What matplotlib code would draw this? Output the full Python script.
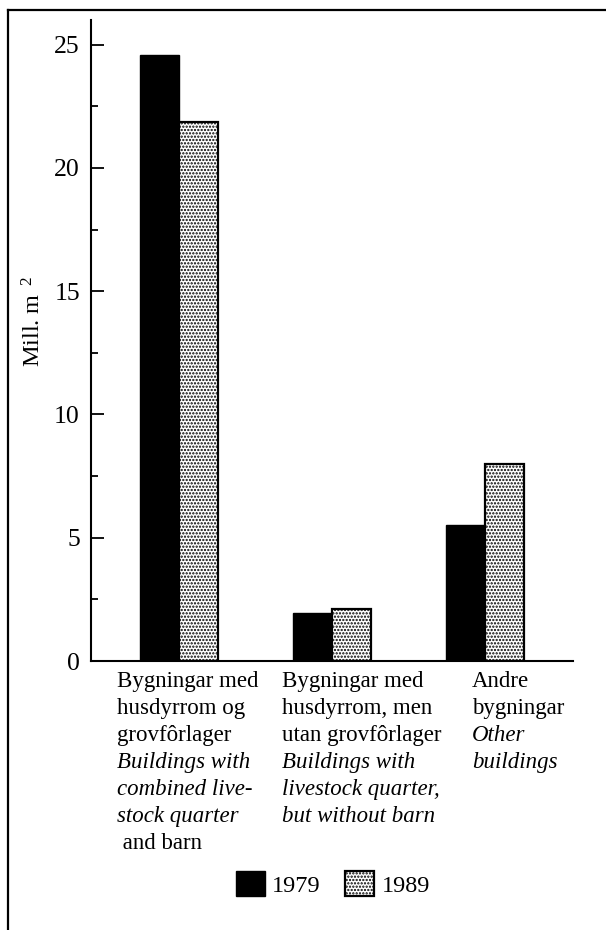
import matplotlib
matplotlib.use("Agg")
import matplotlib.pyplot as plt
from matplotlib.lines import Line2D
import numpy as np

plt.rcParams['font.family'] = ['Liberation Serif', 'DejaVu Serif']
plt.rcParams['mathtext.fontset'] = 'custom'
plt.rcParams['mathtext.rm'] = 'Liberation Serif'
plt.rcParams['mathtext.it'] = 'Liberation Serif:italic'
plt.rcParams['hatch.linewidth'] = 1.1

# ---- data ----
categories = ["Bygningar med husdyrrom og grovfôrlager",
              "Bygningar med husdyrrom, men utan grovfôrlager",
              "Andre bygningar"]
years = ["1979", "1989"]
values_1979 = [24.6, 1.95, 5.5]
values_1989 = [21.85, 2.1, 8.0]
yticks = [0, 5, 10, 15, 20, 25]
ylabel = r"Mill. m$^{\ \ \mathrm{2}}$"

# label lines: (text, italic)
label_lines = [
    [("Bygningar med", False), ("husdyrrom og", False), ("grovfôrlager", False),
     ("Buildings with", True), ("combined live-", True), ("stock quarter", True),
     (" and barn", False)],
    [("Bygningar med", False), ("husdyrrom, men", False), ("utan grovfôrlager", False),
     ("Buildings with", True), ("livestock quarter,", True), ("but without barn", True)],
    [("Andre", False), ("bygningar", False), ("Other", True), ("buildings", True)],
]
label_x_offset = [-0.405, -0.327, -0.085]

fig = plt.figure(figsize=(6.06, 9.30), dpi=100)
ax = fig.add_axes([91/606, 1-661/930, (573-91)/606, (661-20)/930])

x = np.arange(len(categories))
w = 0.255
b1 = ax.bar(x - w/2, values_1979, w, color='black', edgecolor='black', linewidth=1.0, label=years[0])
b2 = ax.bar(x + w/2, values_1989, w, color='white', edgecolor='black', linewidth=1.6,
            hatch='.....', label=years[1])

ax.set_xlim(-0.575, 2.575)
ax.set_ylim(0, 26)
ax.set_yticks(yticks)
ax.set_yticks(np.arange(2.5, 25, 5), minor=True)
ax.set_xticks([])
for s in ['top', 'right']:
    ax.spines[s].set_visible(False)
for s in ['left', 'bottom']:
    ax.spines[s].set_linewidth(1.5)
ax.tick_params(axis='y', which='major', direction='in', length=9.5, width=1.3,
               labelsize=18.5, pad=8)
ax.tick_params(axis='y', which='minor', direction='in', length=5, width=1.3)

ax.set_ylabel(ylabel, fontsize=17.5)
ax.yaxis.set_label_coords(-0.095, 0.53)

# category labels
for i, lines in enumerate(label_lines):
    for j, (txt, it) in enumerate(lines):
        ax.annotate(txt, xy=(x[i] + label_x_offset[i], 0),
                    xycoords=('data', 'axes fraction'),
                    xytext=(0, -(15.1 + 19.44 * j)), textcoords='offset points',
                    ha='left', va='center', fontsize=16.5,
                    style='italic' if it else 'normal')

fig.legend(handles=[b1, b2], labels=years, loc='center',
           bbox_to_anchor=(333/606, 1-884/930), ncol=2, frameon=False,
           fontsize=17.5, handlelength=1.2, handleheight=1.19,
           handletextpad=0.3, columnspacing=1.0)

# frame lines
fig.add_artist(Line2D([8/606, 8/606], [0, 1-10/930], transform=fig.transFigure,
                      color='black', linewidth=1.6))
fig.add_artist(Line2D([8/606, 1], [1-10/930, 1-10/930], transform=fig.transFigure,
                      color='black', linewidth=1.6))

fig.savefig("out.png", dpi=100)
